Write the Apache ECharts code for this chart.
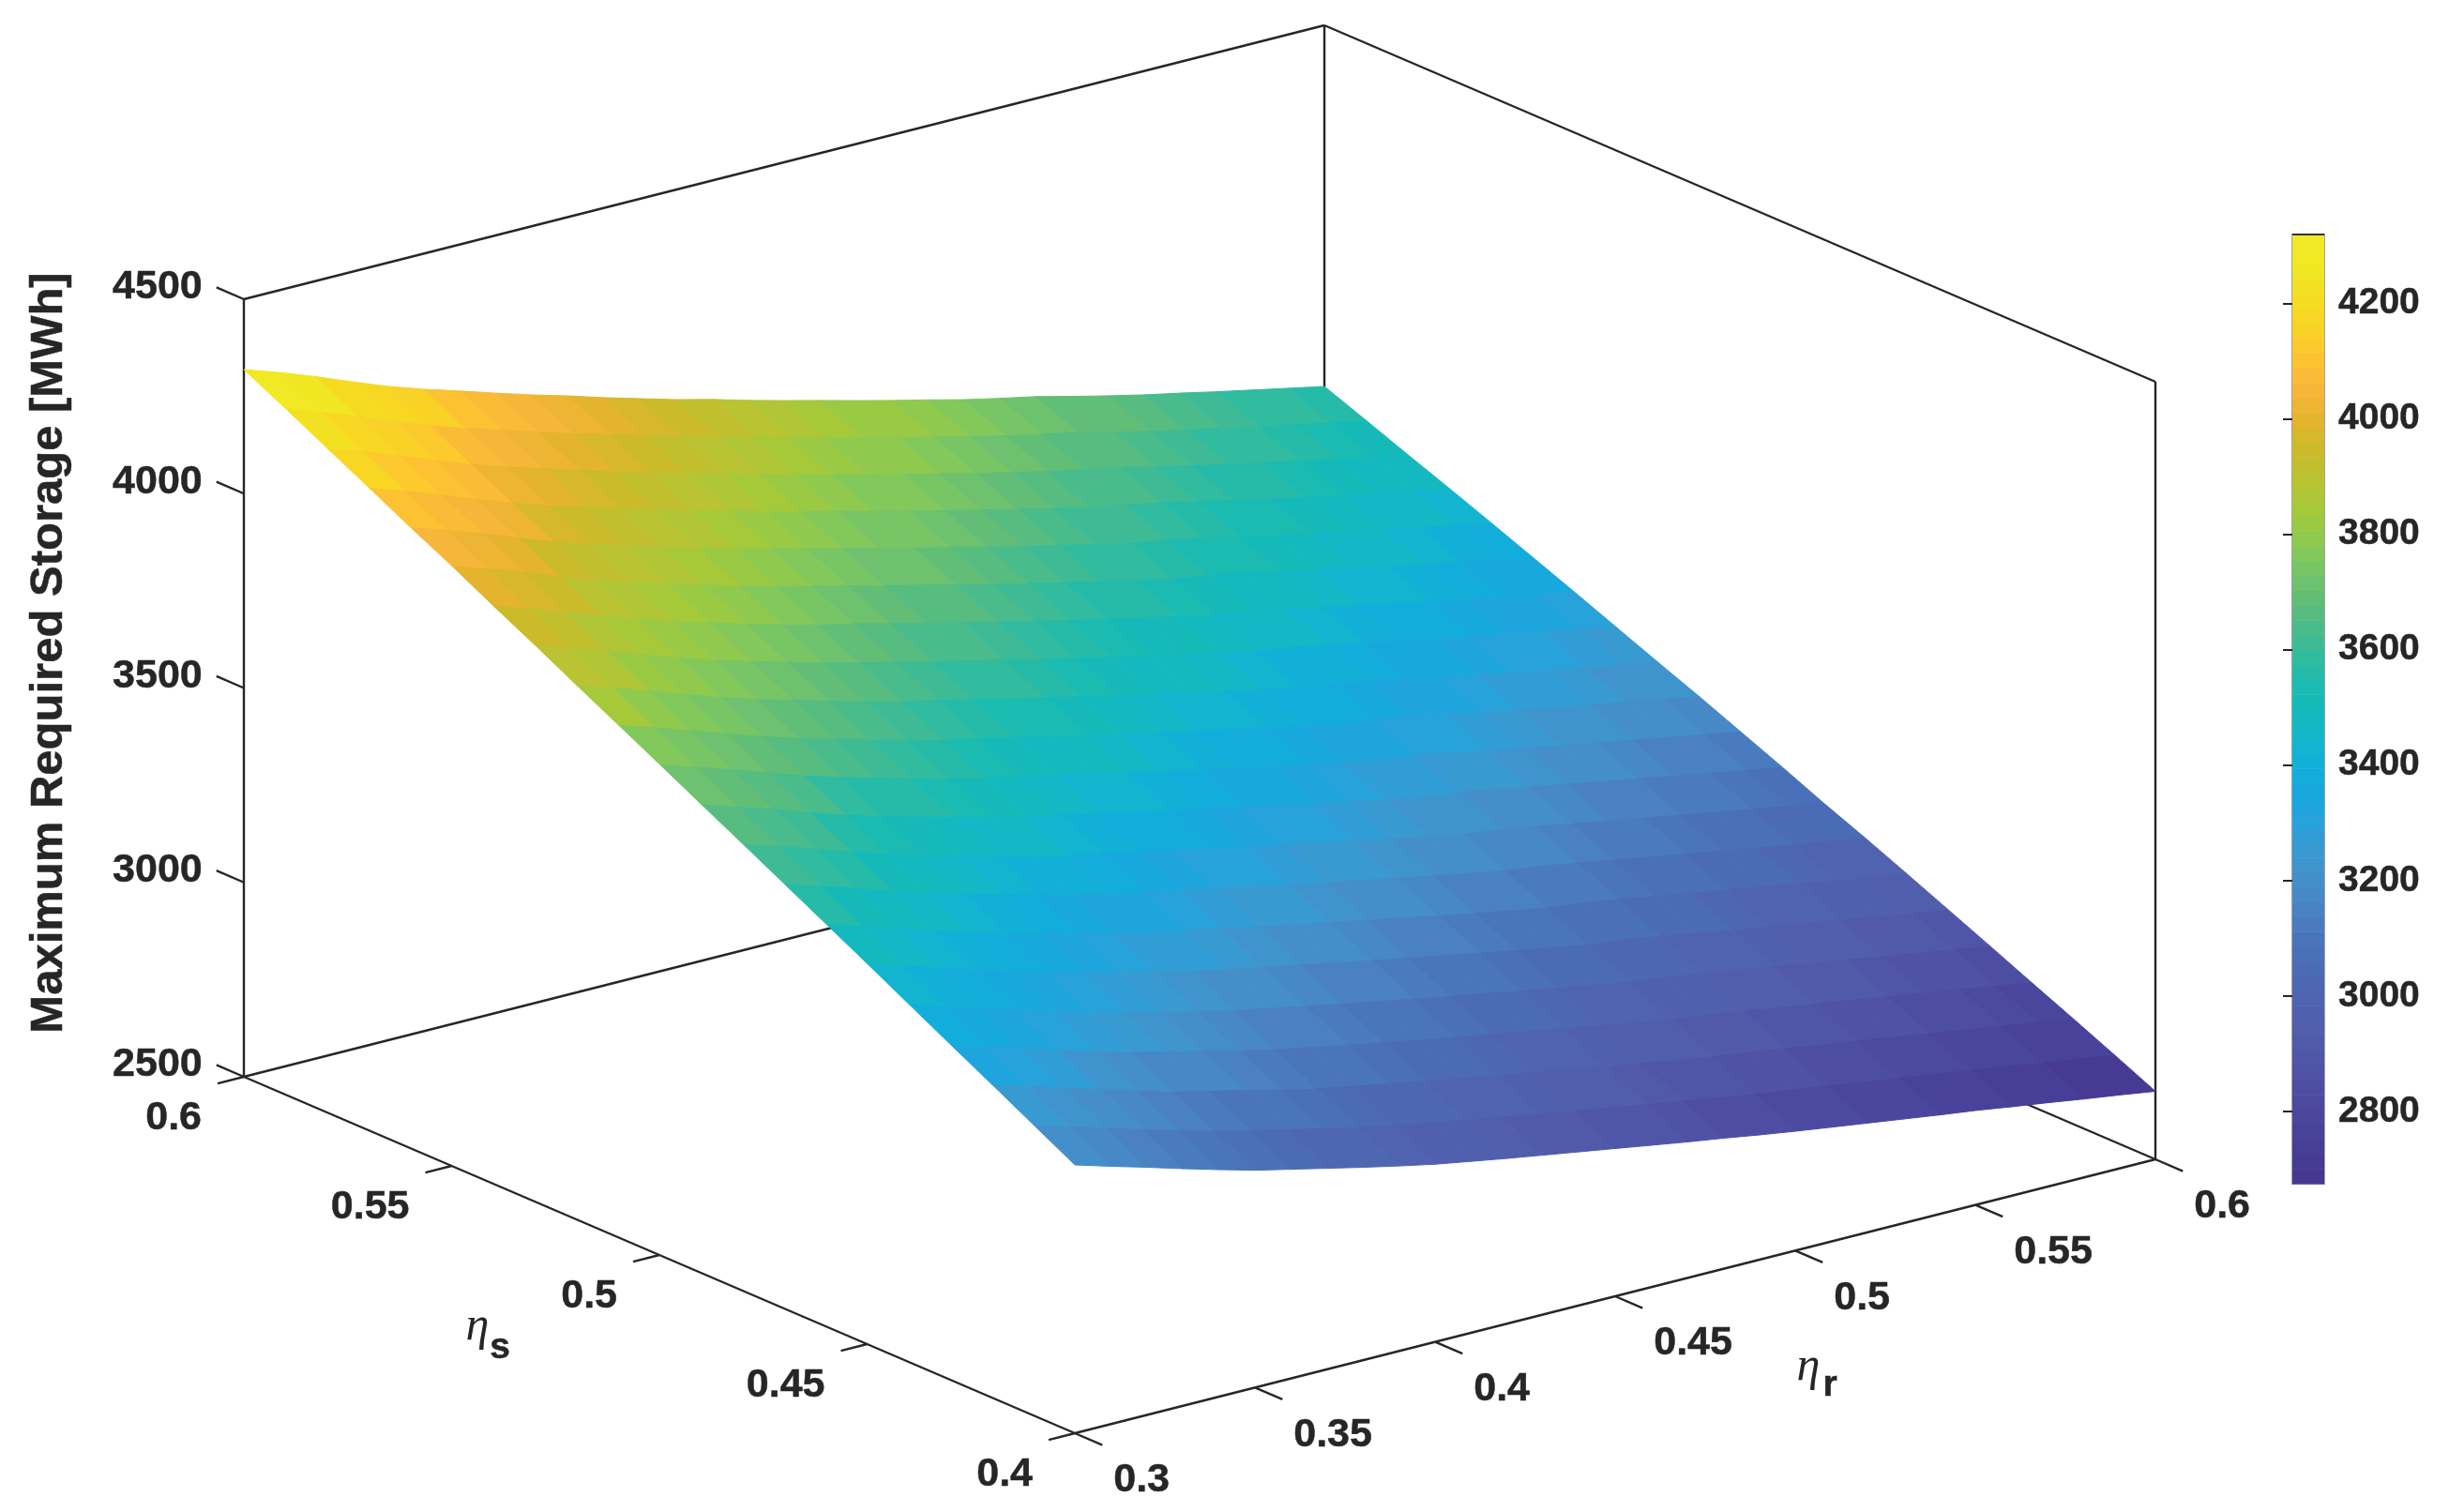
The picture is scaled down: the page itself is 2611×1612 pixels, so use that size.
<!DOCTYPE html>
<html>
<head>
<meta charset="utf-8">
<style>html,body{margin:0;padding:0;background:#fff}#c{width:2611px;height:1612px}</style>
<script src="https://cdn.jsdelivr.net/npm/echarts@6/dist/echarts.min.js"></script>
</head>
<body>
<div id="c"></div>
<script>
// ---------- data ----------
const etaR = [0.30,0.31,0.32,0.33,0.34,0.35,0.36,0.37,0.38,0.39,0.40,0.41,0.42,0.43,0.44,0.45,0.46,0.47,0.48,0.49,0.50,0.51,0.52,0.53,0.54,0.55,0.56,0.57,0.58,0.59,0.60];
const etaS = [0.40,0.41,0.42,0.43,0.44,0.45,0.46,0.47,0.48,0.49,0.50,0.51,0.52,0.53,0.54,0.55,0.56,0.57,0.58,0.59,0.60];
// one row per etaS value, one column per etaR value [MWh]
const storage = [
[3190,3163,3137,3110,3084,3059,3038,3017,2996,2976,2957,2941,2925,2910,2895,2880,2865,2850,2836,2821,2807,2794,2781,2768,2755,2743,2729,2716,2702,2689,2675],
[3248,3221,3195,3167,3141,3116,3094,3073,3052,3031,3013,2996,2980,2964,2949,2933,2918,2903,2888,2873,2858,2846,2833,2819,2806,2793,2779,2766,2751,2738,2724],
[3306,3279,3252,3224,3197,3171,3150,3128,3106,3085,3068,3051,3034,3018,3002,2986,2970,2954,2939,2923,2909,2897,2883,2869,2855,2842,2828,2814,2800,2786,2772],
[3363,3336,3309,3280,3253,3227,3205,3183,3161,3140,3122,3105,3087,3071,3054,3038,3022,3006,2990,2974,2959,2948,2934,2919,2905,2892,2877,2863,2848,2834,2819],
[3421,3393,3365,3336,3309,3282,3260,3237,3215,3194,3177,3159,3141,3124,3107,3090,3074,3057,3041,3025,3009,2999,2984,2969,2955,2941,2926,2911,2896,2882,2867],
[3479,3451,3423,3394,3366,3339,3316,3293,3271,3249,3232,3213,3195,3178,3160,3143,3126,3109,3092,3076,3059,3049,3034,3019,3003,2989,2974,2959,2944,2929,2914],
[3536,3508,3479,3449,3420,3394,3371,3347,3324,3302,3286,3267,3248,3230,3212,3194,3177,3159,3142,3125,3109,3098,3084,3068,3052,3037,3022,3007,2991,2976,2961],
[3593,3565,3536,3505,3476,3449,3426,3402,3379,3356,3339,3320,3300,3282,3264,3245,3228,3210,3192,3175,3158,3147,3132,3116,3100,3084,3069,3053,3037,3022,3007],
[3650,3621,3592,3561,3531,3504,3480,3456,3432,3410,3392,3372,3352,3334,3314,3296,3278,3259,3241,3224,3206,3195,3180,3163,3146,3131,3115,3099,3083,3067,3051],
[3706,3677,3648,3616,3586,3558,3534,3510,3486,3463,3446,3425,3405,3386,3366,3347,3329,3310,3291,3273,3255,3245,3229,3212,3195,3179,3163,3146,3130,3114,3098],
[3763,3734,3704,3672,3641,3613,3589,3564,3539,3516,3499,3478,3457,3438,3417,3398,3379,3359,3341,3322,3304,3293,3277,3259,3242,3225,3209,3192,3176,3160,3143],
[3819,3790,3759,3727,3696,3668,3643,3617,3593,3569,3551,3530,3508,3489,3468,3448,3428,3409,3390,3371,3352,3341,3325,3306,3288,3271,3254,3238,3221,3205,3188],
[3875,3846,3815,3782,3751,3722,3697,3671,3646,3622,3603,3581,3559,3539,3518,3497,3477,3457,3438,3418,3399,3387,3370,3351,3333,3315,3298,3281,3264,3248,3231],
[3932,3902,3871,3838,3806,3777,3751,3725,3700,3676,3656,3633,3611,3591,3568,3548,3527,3507,3487,3467,3447,3435,3418,3398,3379,3362,3344,3327,3310,3293,3275],
[3987,3958,3926,3892,3860,3830,3805,3778,3752,3728,3708,3685,3662,3641,3618,3597,3576,3555,3535,3515,3495,3482,3464,3444,3425,3407,3389,3371,3354,3337,3319],
[4044,4014,3982,3947,3915,3885,3859,3832,3806,3781,3759,3736,3712,3691,3668,3646,3625,3604,3583,3563,3542,3528,3510,3490,3470,3451,3433,3415,3397,3380,3362],
[4098,4068,4036,4001,3967,3938,3911,3884,3857,3832,3810,3786,3762,3741,3717,3695,3673,3651,3630,3609,3588,3573,3556,3535,3514,3495,3477,3459,3441,3423,3405],
[4154,4123,4090,4055,4021,3991,3964,3936,3910,3884,3861,3836,3812,3790,3766,3743,3721,3699,3677,3656,3634,3618,3600,3579,3558,3538,3520,3501,3483,3465,3447],
[4209,4179,4145,4109,4075,4045,4018,3989,3962,3937,3912,3887,3862,3839,3814,3791,3769,3746,3724,3703,3681,3663,3645,3623,3602,3582,3563,3544,3525,3507,3488],
[4265,4234,4200,4164,4129,4098,4071,4042,4014,3989,3962,3937,3911,3889,3863,3840,3817,3793,3771,3749,3727,3708,3689,3667,3645,3625,3606,3586,3568,3549,3530],
[4319,4288,4254,4217,4182,4151,4123,4094,4066,4040,4012,3986,3960,3937,3911,3887,3864,3840,3817,3795,3772,3752,3733,3710,3688,3667,3648,3628,3609,3590,3571]
];
// tick labels
const zTicks = [2500,3000,3500,4000,4500];
const rTicks = [0.3,0.35,0.4,0.45,0.5,0.55,0.6];
const sTicks = [0.4,0.45,0.5,0.55,0.6];
const colorbarTicks = [2800,3000,3200,3400,3600,3800,4000,4200];
const colorMin = 2675, colorMax = 4319;
const axisLimits = {rMin:0.3,rMax:0.6,sMin:0.4,sMax:0.6,zMin:2500,zMax:4500};
const yTitle = 'Maximum Required Storage [MWh]';
const colormap = ['#463591','#473c96','#49449c','#4c4da2','#5055a6','#515dab','#4f63b0','#4b6bb5','#4a75bc','#4a82c3','#4490cb','#389ad2','#25a3dc','#14aade','#11b2d4','#13b8c2','#16bbb5','#2cbba3','#46bb8e','#5fbd79','#76c468','#8dca50','#a5c93a','#bac332','#cbba2a','#e5b42e','#f8b63a','#fdc430','#fad326','#f4de20','#f0e823','#efea26'];
const colorLevels = 64;

// ---------- view: orthographic projection onto the hidden page-sized plane axes ----------
const A = axisLimits;
function project(r,s,z){
  const u=(r-A.rMin)/(A.rMax-A.rMin), v=(s-A.sMin)/(A.sMax-A.sMin), w=(z-A.zMin)/(A.zMax-A.zMin);
  return [1146+1152*u-886*v, 1528-292*u-380*v-829*w];
}
function levelColor(level){ return echarts.color.lerp((level+0.5)/colorLevels, colormap); }
function valueColor(v){
  const l=Math.max(0,Math.min(colorLevels-1,Math.floor((v-colorMin)/(colorMax-colorMin)*colorLevels)));
  return levelColor(l);
}
const INK='#262626';
const tickFont='bold 43px "Liberation Sans", Arial, sans-serif';
const titleFont='bold 49px "Liberation Sans", Arial, sans-serif';

// frame segments as 3D end points
const frame=[
 [A.rMin,A.sMax,A.zMin, A.rMin,A.sMin,A.zMin],
 [A.rMin,A.sMin,A.zMin, A.rMax,A.sMin,A.zMin],
 [A.rMin,A.sMax,A.zMin, A.rMax,A.sMax,A.zMin],
 [A.rMax,A.sMax,A.zMin, A.rMax,A.sMin,A.zMin],
 [A.rMin,A.sMax,A.zMin, A.rMin,A.sMax,A.zMax],
 [A.rMax,A.sMin,A.zMin, A.rMax,A.sMin,A.zMax],
 [A.rMax,A.sMax,A.zMin, A.rMax,A.sMax,A.zMax],
 [A.rMin,A.sMax,A.zMax, A.rMax,A.sMax,A.zMax],
 [A.rMax,A.sMax,A.zMax, A.rMax,A.sMin,A.zMax]
];
const cells=[];
for(let j=0;j<etaS.length-1;j++)for(let i=0;i<etaR.length-1;i++)cells.push([i,j]);

// tick length as fractions of the axes
const sTickR=0.0243*(A.rMax-A.rMin), rTickS=0.033*(A.sMax-A.sMin);

const textEl=(x,y,text,align,font)=>({type:'text',silent:true,
  style:{x,y,text,fill:INK,font,textAlign:align,textVerticalAlign:'middle',stroke:INK,lineWidth:0.5}});

function renderFrame(params,api){
  const f=frame[params.dataIndex];
  const a=api.coord(project(f[0],f[1],f[2])), b=api.coord(project(f[3],f[4],f[5]));
  return {type:'line',shape:{x1:a[0],y1:a[1],x2:b[0],y2:b[1]},style:{stroke:INK,lineWidth:2.4,fill:null}};
}
function renderCell(params,api){
  const c=cells[params.dataIndex], i=c[0], j=c[1];
  const q=[[i,j],[i+1,j],[i+1,j+1],[i,j+1]];
  const pts=q.map(p=>api.coord(project(etaR[p[0]],etaS[p[1]],storage[p[1]][p[0]])));
  const mean=q.reduce((t,p)=>t+storage[p[1]][p[0]],0)/4;
  const col=valueColor(mean);
  return {type:'polygon',shape:{points:pts},style:{fill:col,stroke:col,lineWidth:1}};
}
function tickGroup(kind,value){
  let base,end,align,dx,dy;
  if(kind==='s'){
    base=project(A.rMin,value,A.zMin); end=project(A.rMin-sTickR,value,A.zMin);
    align='right';dx=-17;dy=37;
  }else if(kind==='r'){
    base=project(value,A.sMin,A.zMin); end=project(value,A.sMin-rTickS,A.zMin);
    align='left';dx=12;dy=38;
  }else{
    base=project(A.rMin,A.sMax,value); end=project(A.rMin,A.sMax+rTickS,value);
    align='right';dx=-15;dy=0;
  }
  return {base,end,align,dx,dy};
}
const allTicks=[];
sTicks.forEach(v=>allTicks.push(['s',v]));
rTicks.forEach(v=>allTicks.push(['r',v]));
zTicks.forEach(v=>allTicks.push(['z',v]));
function renderTick(params,api){
  const t=allTicks[params.dataIndex], g=tickGroup(t[0],t[1]);
  const a=api.coord(g.base), b=api.coord(g.end);
  return {type:'group',children:[
    {type:'line',shape:{x1:a[0],y1:a[1],x2:b[0],y2:b[1]},style:{stroke:INK,lineWidth:2.4,fill:null}},
    textEl(b[0]+g.dx,b[1]+g.dy,String(t[1]),g.align,tickFont)
  ]};
}
function renderNames(params,api){
  const p1=api.coord([509,1415]), p2=api.coord([1928,1458]), p3=api.coord([52,696]);
  const greekFont='italic 50px "Liberation Serif", "DejaVu Serif", serif';
  const subFont='bold 39px "Liberation Sans", Arial, sans-serif';
  const greek=(x,y)=>({type:'text',silent:true,style:{x,y,text:'\u03b7',fill:INK,font:greekFont,textAlign:'center',textVerticalAlign:'middle'}});
  return {type:'group',children:[
    greek(p1[0],p1[1]),
    textEl(p1[0]+24,p1[1]+22,'s','center',subFont),
    greek(p2[0],p2[1]),
    textEl(p2[0]+23,p2[1]+19,'r','center',subFont),
    {type:'text',silent:true,x:p3[0],y:p3[1],rotation:Math.PI/2,
     style:{x:0,y:0,text:yTitle,fill:INK,font:titleFont,textAlign:'center',textVerticalAlign:'middle',stroke:INK,lineWidth:0.5}}
  ]};
}
function renderColorbar(params,api){
  const l=params.dataIndex, step=(colorMax-colorMin)/colorLevels;
  const a=api.coord([0,colorMin+l*step]), b=api.coord([1,colorMin+(l+1)*step]);
  const col=levelColor(l);
  const rect={type:'rect',shape:{x:a[0],y:b[1],width:b[0]-a[0],height:a[1]-b[1]+0.6},style:{fill:col}};
  if(l===colorLevels-1){
    return {type:'group',children:[rect,{type:'line',shape:{x1:a[0],y1:b[1],x2:b[0],y2:b[1]},style:{stroke:'#333333',lineWidth:2,fill:null}}]};
  }
  return rect;
}

const chart=echarts.init(document.getElementById('c'),null,{renderer:'canvas',width:2611,height:1612});
const idx=n=>Array.from({length:n},(_,k)=>[k]);
chart.setOption({
  animation:false,
  backgroundColor:'#ffffff',
  grid:[
    {left:0,top:0,right:0,bottom:0,show:false},
    {left:2444,top:250,width:34,height:1012,show:true,borderColor:'#a3a3a3',borderWidth:2,backgroundColor:'transparent',z:1}
  ],
  xAxis:[
    {gridIndex:0,type:'value',min:0,max:2611,show:false},
    {gridIndex:1,type:'value',min:0,max:1,show:false}
  ],
  yAxis:[
    {gridIndex:0,type:'value',min:0,max:1612,inverse:true,show:false},
    {gridIndex:1,type:'value',min:colorMin,max:colorMax,position:'right',z:10,
     splitLine:{show:false},axisLine:{show:false},
     axisTick:{show:true,inside:true,length:10,lineStyle:{color:INK,width:2},customValues:colorbarTicks},
     axisLabel:{show:true,margin:15,color:INK,fontFamily:'Liberation Sans',fontWeight:'bold',fontSize:39,
       textBorderColor:INK,textBorderWidth:0.5,padding:[6,0,0,0],customValues:colorbarTicks,formatter:v=>String(v)}}
  ],
  series:[
    {type:'custom',name:'frame',xAxisIndex:0,yAxisIndex:0,z:1,silent:true,clip:false,renderItem:renderFrame,data:idx(frame.length),encode:{x:[],y:[]}},
    {type:'custom',name:'ticks',xAxisIndex:0,yAxisIndex:0,z:2,silent:true,clip:false,renderItem:renderTick,data:idx(allTicks.length),encode:{x:[],y:[]}},
    {type:'custom',name:'Maximum Required Storage',xAxisIndex:0,yAxisIndex:0,z:3,silent:true,clip:false,renderItem:renderCell,data:idx(cells.length),encode:{x:[],y:[]}},
    {type:'custom',name:'names',xAxisIndex:0,yAxisIndex:0,z:4,silent:true,clip:false,renderItem:renderNames,data:[[0]],encode:{x:[],y:[]}},
    {type:'custom',name:'colorbar',xAxisIndex:1,yAxisIndex:1,z:5,silent:true,clip:false,renderItem:renderColorbar,data:idx(colorLevels),encode:{x:[],y:[]}}
  ]
});
</script>
</body>
</html>
